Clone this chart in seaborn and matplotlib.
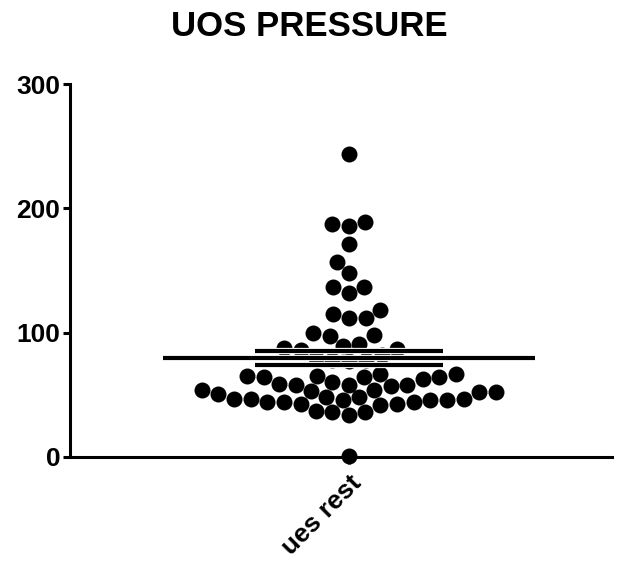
import matplotlib
matplotlib.use("Agg")
import matplotlib.pyplot as plt
import matplotlib.patheffects as pe
import seaborn as sns
import numpy as np
import pandas as pd

# ---- data ----
category = "ues rest"
values = [244, 189, 186, 187, 171, 157, 148, 137, 132, 137,
          118, 112, 112, 115, 98, 91, 97, 100, 88, 86, 87, 89,
          80, 78, 77, 78, 82, 67, 65, 65, 67,
          64, 48, 64, 47, 59, 46, 58, 44, 57, 43, 53, 42,
          51, 36, 54, 47, 36, 52, 46, 34, 52, 37,
          54, 43, 58, 44, 58, 44, 60, 46, 63, 47, 64, 48,
          1]
yticks = [0, 100, 200, 300]
title = "UOS PRESSURE"

sns.set_style("ticks", rc={"text.color": "black", "axes.labelcolor": "black",
                           "xtick.color": "black", "ytick.color": "black",
                           "axes.edgecolor": "black"})
plt.rcParams["font.family"] = ["Liberation Sans", "DejaVu Sans"]
plt.rcParams["font.weight"] = "bold"

fig = plt.figure(figsize=(6.24, 5.76), dpi=100)
ax = fig.add_axes([70 / 624, 119 / 576, 542 / 624, 373 / 576])

df = pd.DataFrame({"group": [category] * len(values), "value": values})
sns.swarmplot(data=df, x="group", y="value", color="black", size=11.5,
              ax=ax, clip_on=False, zorder=3, warn_thresh=1)

mean = np.mean(values)
sem = np.std(values, ddof=1) / np.sqrt(len(values))
stroke = [pe.Stroke(linewidth=4.5, foreground="white"), pe.Normal()]
ax.hlines(mean, -0.354, 0.354, color="black", lw=3, zorder=5, path_effects=stroke)
ax.hlines([mean - sem, mean + sem], -0.179, 0.179, color="black", lw=3, zorder=5,
          path_effects=stroke)
ax.vlines(0, mean - sem, mean + sem, color="black", lw=3, zorder=4)

ax.set_xlim(-0.53, 0.5)
ax.set_ylim(0, 300)
ax.set_yticks(yticks)
ax.set_xlabel("")
ax.set_ylabel("")
for s in ["top", "right"]:
    ax.spines[s].set_visible(False)
for s in ["left", "bottom"]:
    ax.spines[s].set_linewidth(2.2)
    ax.spines[s].set_color("black")
ax.tick_params(width=2.2, length=5, labelsize=19, pad=2, color="black",
               labelcolor="black")
ax.tick_params(axis="x", pad=5)
for lab in ax.get_xticklabels():
    lab.set_rotation(45)
    lab.set_ha("right")
    lab.set_rotation_mode("anchor")
    lab.set_fontweight("bold")
for lab in ax.get_yticklabels():
    lab.set_fontweight("bold")

fig.text(309 / 624, 1 - 27 / 576, title, ha="center", va="center",
         fontsize=25, fontweight="bold", color="black")

fig.savefig("out.png", dpi=100)
